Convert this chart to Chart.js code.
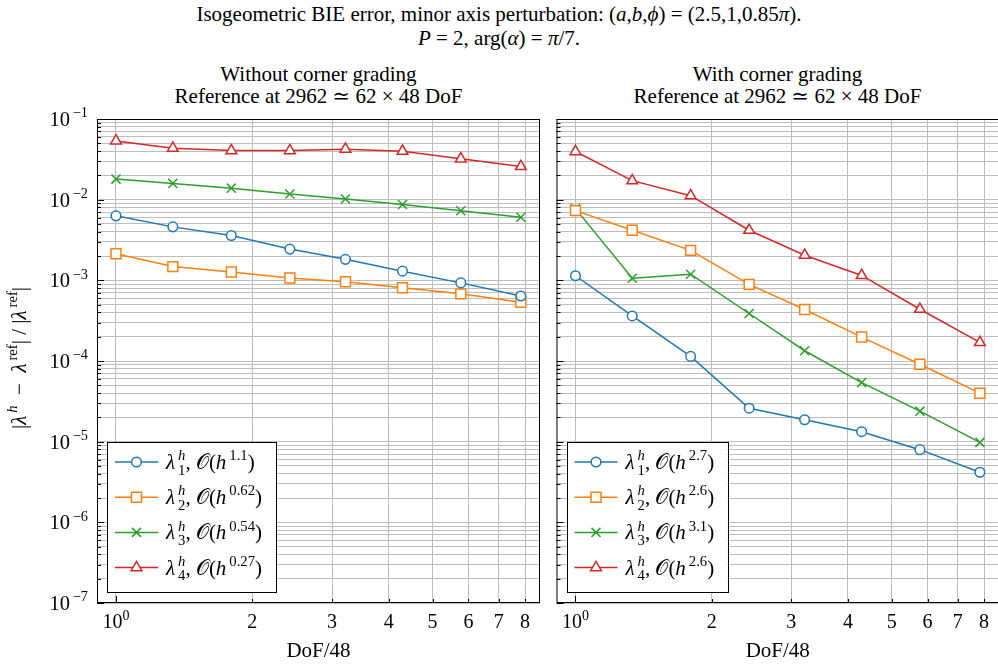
<!DOCTYPE html>
<html>
<head>
<meta charset="utf-8">
<script src="https://cdn.jsdelivr.net/npm/chart.js@4.4.1/dist/chart.umd.min.js"></script>
<style>
  body { margin: 0; background: #fff; overflow: hidden; }
  #page { position: relative; width: 998px; height: 668px; overflow: hidden;
          font-family: "Liberation Serif", "DejaVu Serif", serif; color: #000; }
  .title { position: absolute; left: 0; width: 998px; text-align: center; font-size: 21px; line-height: 24px; }
  .sub { position: absolute; text-align: center; font-size: 21px; line-height: 22px; }
  .panel { position: absolute; top: 100px; height: 568px; }
  i { font-style: italic; }
</style>
</head>
<body>
<div id="page">
  <div class="title" style="top:2px">Isogeometric BIE error, minor axis perturbation: (<i>a</i>,<i>b</i>,<i>ϕ</i>) = (2.5,1,0.85<i>π</i>).</div>
  <div class="title" style="top:26px"><i>P</i> = 2, arg(<i>α</i>) = <i>π</i>/7.</div>

  <div class="sub" style="left:97px;width:443px;top:63px">Without corner grading<br>Reference at 2962 ≃ 62 × 48 DoF</div>
  <div class="sub" style="left:556px;width:443px;top:63px">With corner grading<br>Reference at 2962 ≃ 62 × 48 DoF</div>

  <div class="panel" style="left:0;width:550px"><canvas id="left" width="550" height="568"></canvas></div>
  <div class="panel" style="left:548px;width:460px"><canvas id="right" width="460" height="568"></canvas></div>
</div>

<script>
// DoF/48 sample points (same refinement levels in both panels)
const X_VALUES = [1, 1.335, 1.797, 2.42, 3.21, 4.29, 5.77, 7.83];

// without corner grading
const PLAIN_L1 = [6.3e-3, 4.6e-3, 3.6e-3, 2.44e-3, 1.82e-3, 1.3e-3, 9.3e-4, 6.4e-4];
const PLAIN_L2 = [2.14e-3, 1.48e-3, 1.27e-3, 1.07e-3, 9.6e-4, 8.1e-4, 6.8e-4, 5.35e-4];
const PLAIN_L3 = [1.8e-2, 1.59e-2, 1.39e-2, 1.175e-2, 1.02e-2, 8.7e-3, 7.3e-3, 6.05e-3];
const PLAIN_L4 = [5.35e-2, 4.35e-2, 4.06e-2, 4.06e-2, 4.23e-2, 3.99e-2, 3.21e-2, 2.58e-2];
const PLAIN_ORDERS = ['1.1', '0.62', '0.54', '0.27'];

// with corner grading
const GRADED_L1 = [1.14e-3, 3.62e-4, 1.14e-4, 2.6e-5, 1.87e-5, 1.33e-5, 7.96e-6, 4.18e-6];
const GRADED_L2 = [7.31e-3, 4.18e-3, 2.35e-3, 8.9e-4, 4.35e-4, 1.98e-4, 9.1e-5, 3.99e-5];
const GRADED_L3 = [7.74e-3, 1.06e-3, 1.19e-3, 3.88e-4, 1.34e-4, 5.4e-5, 2.39e-5, 9.8e-6];
const GRADED_L4 = [3.95e-2, 1.72e-2, 1.12e-2, 4.18e-3, 2.05e-3, 1.15e-3, 4.38e-4, 1.7e-4];
const GRADED_ORDERS = ['2.7', '2.6', '3.1', '2.6'];

const X_TICKS = [1, 2, 3, 4, 5, 6, 7, 8];
const X_TICK_LABELS = ['10^0', '2', '3', '4', '5', '6', '7', '8'];
const Y_EXPONENTS = [-7, -6, -5, -4, -3, -2, -1];

const COLORS = ['#1f77b4', '#ff7f0e', '#2ca02c', '#d62728'];
const POINT_STYLES = ['circle', 'rect', 'crossRot', 'triangle'];
const POINT_RADII = [4.8, 7, 6.4, 6.2];
const FONT = '"Liberation Serif", "DejaVu Serif", serif';
const GRID = '#bdbdbd';

// every minor/major position between 1e-7 and 1e-1
const Y_TICKS = [];
for (const e of Y_EXPONENTS) {
  if (e === -1) { Y_TICKS.push(0.1); break; }
  for (let k = 1; k <= 9; k++) Y_TICKS.push(+(k * Math.pow(10, e)).toPrecision(3));
}

// --- small rich-text helper: parts are [text, style]; style has i (italic), ^ (sup), _ (sub), | (stack with next)
function partFont(st, size) {
  const s = (st.includes('^') || st.includes('_')) ? size * 0.7 : size;
  return (st.includes('i') ? 'italic ' : '') + s.toFixed(1) + 'px ' + FONT;
}
function richWidth(ctx, parts, size) {
  let w = 0, held = 0;
  for (const [t, st] of parts) {
    ctx.font = partFont(st, size);
    const tw = ctx.measureText(t).width;
    if (st.includes('|')) { held = tw; continue; }
    w += Math.max(tw, held); held = 0;
  }
  return w;
}
function drawRich(ctx, x, y, parts, size, align) {
  const w = richWidth(ctx, parts, size);
  let cx = align === 'right' ? x - w : align === 'center' ? x - w / 2 : x;
  ctx.textAlign = 'left';
  ctx.textBaseline = 'alphabetic';
  let held = 0;
  for (const [t, st] of parts) {
    ctx.font = partFont(st, size);
    const dy = st.includes('^') ? -size * 0.42 : st.includes('_') ? size * 0.28 : 0;
    ctx.fillText(t, cx, y + dy);
    const tw = ctx.measureText(t).width;
    if (st.includes('|')) { held = tw; continue; }
    cx += Math.max(tw, held); held = 0;
  }
}

function drawMarker(ctx, style, x, y, color) {
  ctx.save();
  ctx.strokeStyle = color; ctx.fillStyle = '#fff'; ctx.lineWidth = 1.5;
  ctx.beginPath();
  if (style === 'circle') {
    ctx.arc(x, y, 4.8, 0, Math.PI * 2); ctx.fill(); ctx.stroke();
  } else if (style === 'rect') {
    ctx.rect(x - 5, y - 5, 10, 10); ctx.fill(); ctx.stroke();
  } else if (style === 'crossRot') {
    ctx.moveTo(x - 4.5, y - 4.5); ctx.lineTo(x + 4.5, y + 4.5);
    ctx.moveTo(x + 4.5, y - 4.5); ctx.lineTo(x - 4.5, y + 4.5); ctx.stroke();
  } else {
    ctx.moveTo(x, y - 6.2); ctx.lineTo(x + 5.4, y + 3.1); ctx.lineTo(x - 5.4, y + 3.1);
    ctx.closePath(); ctx.fill(); ctx.stroke();
  }
  ctx.restore();
}

// frame, inward ticks, tick labels, axis labels and the boxed legend
const panelDecor = {
  id: 'panelDecor',
  afterDraw(chart, args, opts) {
    const { ctx, chartArea: a, scales: { x, y } } = chart;
    ctx.save();
    ctx.strokeStyle = '#000';
    ctx.lineWidth = 1;

    // inward ticks
    ctx.beginPath();
    for (const v of Y_TICKS) {
      const py = Math.round(y.getPixelForValue(v)) + 0.5;
      const m = Math.abs(Math.log10(v) - Math.round(Math.log10(v))) < 1e-6;
      ctx.moveTo(a.left, py); ctx.lineTo(a.left + (m ? 7 : 4), py);
    }
    for (const v of X_TICKS) {
      const px = Math.round(x.getPixelForValue(v)) + 0.5;
      ctx.moveTo(px, a.bottom); ctx.lineTo(px, a.bottom - (v === 1 ? 7 : 4));
    }
    ctx.stroke();
    ctx.strokeRect(a.left + 0.5, a.top + 0.5, a.right - a.left - 1, a.bottom - a.top - 1);

    ctx.fillStyle = '#000';
    // x tick labels
    X_TICKS.forEach((v, i) => {
      const px = x.getPixelForValue(v);
      const lab = X_TICK_LABELS[i];
      const parts = lab.includes('^') ? [[lab.split('^')[0], ''], [lab.split('^')[1], '^']] : [[lab, '']];
      drawRich(ctx, px, a.bottom + 25, parts, 20, 'center');
    });
    drawRich(ctx, (a.left + a.right) / 2, a.bottom + 54, [['DoF/48', '']], 21, 'center');

    if (opts.yLabels) {
      for (const e of Y_EXPONENTS) {
        const py = y.getPixelForValue(Math.pow(10, e));
        drawRich(ctx, a.left - 9, py + 7, [['10', ''], ['\u2009\u2212' + (-e), '^']], 20.5, 'right');
      }
      ctx.save();
      ctx.translate(20, (a.top + a.bottom) / 2 - 3);
      ctx.rotate(-Math.PI / 2);
      drawRich(ctx, 0, 6, [
        ['|', ''], ['λ', 'i'], ['\u2009h', 'i^'], ['  \u2212  ', ''], ['λ', 'i'], ['\u2009ref', '^'],
        ['| / |', ''], ['λ', 'i'], ['\u2009ref', '^'], ['|', '']
      ], 21, 'center');
      ctx.restore();
    }

    // legend
    const bx = a.left + 10, bw = opts.legendWidth, bh = 150, by = a.bottom - 11 - bh;
    ctx.fillStyle = '#fff';
    ctx.fillRect(bx, by, bw, bh);
    ctx.strokeRect(Math.round(bx) + 0.5, Math.round(by) + 0.5, bw, bh);
    chart.data.datasets.forEach((ds, i) => {
      const ry = by + 20 + i * 35.2;
      ctx.strokeStyle = COLORS[i]; ctx.lineWidth = 1.5;
      ctx.beginPath(); ctx.moveTo(bx + 8, ry); ctx.lineTo(bx + 51, ry); ctx.stroke();
      drawMarker(ctx, POINT_STYLES[i], bx + 29.5, ry, COLORS[i]);
      ctx.fillStyle = '#000';
      drawRich(ctx, bx + 59, ry + 7, [
        ['λ', 'i'], ['\u2009h', 'i^|'], ['\u2009' + (i + 1), '_'], [', ', ''], ['𝒪', ''], ['(', ''],
        ['h', 'i'], ['\u2009' + opts.orders[i], '^'], [')', '']
      ], 21, 'left');
    });
    ctx.restore();
  }
};

function makeDatasets(series) {
  return series.map((vals, i) => ({
    label: 'lambda' + (i + 1),
    data: X_VALUES.map((xv, j) => ({ x: xv, y: vals[j] })),
    borderColor: COLORS[i],
    backgroundColor: '#fff',
    borderWidth: 1.5,
    pointStyle: POINT_STYLES[i],
    pointRadius: POINT_RADII[i],
    pointBorderWidth: 1.5,
    pointBorderColor: COLORS[i],
    pointBackgroundColor: '#fff',
    tension: 0
  }));
}

function makeChart(id, series, yWidth, padRight, decor) {
  return new Chart(document.getElementById(id), {
    type: 'line',
    data: { datasets: makeDatasets(series) },
    options: {
      responsive: false,
      animation: false,
      devicePixelRatio: 1,
      layout: { padding: { top: 19, right: padRight, left: 0, bottom: 0 } },
      plugins: { legend: { display: false }, tooltip: { enabled: false }, panelDecor: decor },
      scales: {
        x: {
          type: 'logarithmic', min: 0.908, max: 8.63,
          afterBuildTicks: s => { s.ticks = X_TICKS.map(v => ({ value: v })); },
          afterFit: s => { s.height = 65; },
          ticks: { display: false },
          grid: { color: GRID, lineWidth: 1, drawTicks: false },
          border: { display: false }
        },
        y: {
          type: 'logarithmic', min: 1e-7, max: 1e-1,
          afterBuildTicks: s => { s.ticks = Y_TICKS.map(v => ({ value: v })); },
          afterFit: s => { s.width = yWidth; },
          ticks: { display: false },
          grid: { color: GRID, lineWidth: 1, drawTicks: false },
          border: { display: false }
        }
      }
    },
    plugins: [panelDecor]
  });
}

makeChart('left', [PLAIN_L1, PLAIN_L2, PLAIN_L3, PLAIN_L4], 97, 10,
  { yLabels: true, orders: PLAIN_ORDERS, legendWidth: 169 });
makeChart('right', [GRADED_L1, GRADED_L2, GRADED_L3, GRADED_L4], 8, 9,
  { yLabels: false, orders: GRADED_ORDERS, legendWidth: 161 });
</script>
</body>
</html>
